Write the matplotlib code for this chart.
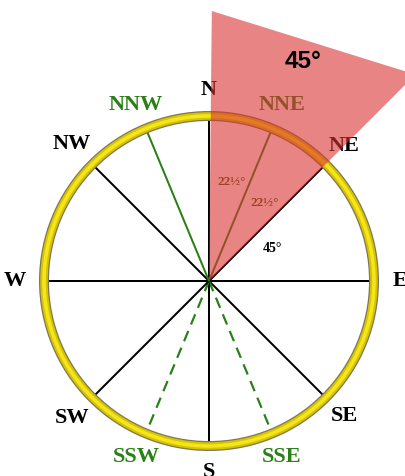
import numpy as np
import matplotlib
matplotlib.use("Agg")
import matplotlib.pyplot as plt
from matplotlib.patches import Circle, Polygon

# ---- data ----
directions = ["N", "NNE", "NE", "E", "SE", "SSE", "S", "SSW", "SW", "W", "NW", "NNW"]
bearings = [0, 22.5, 45, 90, 135, 157.5, 180, 202.5, 225, 270, 315, 337.5]
kinds = ["main", "minor", "main", "main", "main", "dash", "main", "dash", "main", "main", "main", "minor"]
wedge_bearings = [0, 45]
wedge_reach = [270, 292]
wedge_label = "45°"
half_labels = ["22½°", "22½°"]
inner_label = "45°"

# ---- style ----
W, H, DPI = 405, 476, 100
cx, cy = 209, 281          # compass centre in pixels
R = 165                     # ring radius (px)
LABEL_R = 191
GREEN = "#2a7f17"
px = 72.0 / DPI             # one pixel in points
half_pos = [(13, 102), (35.7, 96)]   # (bearing, radius) placement of half labels

fig = plt.figure(figsize=(W / DPI, H / DPI), dpi=DPI)
ax = fig.add_axes([0, 0, 1, 1])
ax.set_xlim(-cx, W - cx)
ax.set_ylim(-(H - cy), cy)
ax.set_aspect("equal")
ax.axis("off")

def pol(b, r):
    t = np.deg2rad(b)
    return r * np.sin(t), r * np.cos(t)

# spokes
for d, b, k in zip(directions, bearings, kinds):
    x, y = pol(b, R)
    if k == "main":
        ax.plot([0, x], [0, y], color="black", lw=2 * px, zorder=2, solid_capstyle="butt")
    elif k == "minor":
        ax.plot([0, x], [0, y], color=GREEN, lw=2 * px, zorder=2, solid_capstyle="butt")
    else:
        ax.plot([0, x], [0, y], color=GREEN, lw=2.2 * px, zorder=2,
                linestyle=(0, (5, 3.2)))

# ring
ax.add_patch(Circle((0, 0), R, fill=False, ec="#7d7658", lw=10 * px, zorder=3))
ax.add_patch(Circle((0, 0), R, fill=False, ec="#d9c300", lw=7.5 * px, zorder=3))
ax.add_patch(Circle((0, 0), R, fill=False, ec="#f3e61c", lw=3.5 * px, zorder=3))

# labels
for d, b, k in zip(directions, bearings, kinds):
    r = LABEL_R + (3 if d in ("W", "NW", "SW") else 0)
    x, y = pol(b, r)
    col = "black" if k == "main" else GREEN
    ax.text(x, y, d, ha="center", va="center", fontsize=16, fontweight="bold",
            family="Liberation Serif", color=col, zorder=4)

# half-angle labels
for lab, (b, r) in zip(half_labels, half_pos):
    x, y = pol(b, r)
    ax.text(x, y, lab, ha="center", va="center", fontsize=9.5, fontweight="bold",
            family="Liberation Serif", color="#4a5a00", zorder=4)
x, y = pol(63, 71)
ax.text(x, y, inner_label, ha="center", va="center", fontsize=10, fontweight="bold",
        family="Liberation Serif", color="black", zorder=4)

# wedge
p1 = pol(wedge_bearings[0] + 0.6, wedge_reach[0])
p2 = pol(wedge_bearings[1], wedge_reach[1])
ax.add_patch(Polygon([(0, 0), p1, p2], closed=True, fc="#d93333", ec="none",
                     alpha=0.6, zorder=5))
ax.text(303 - cx, cy - 62, wedge_label, ha="center", va="center", fontsize=17.5,
        fontweight="bold", family="Liberation Sans", color="black", zorder=6)

fig.savefig("out.png", dpi=DPI)
